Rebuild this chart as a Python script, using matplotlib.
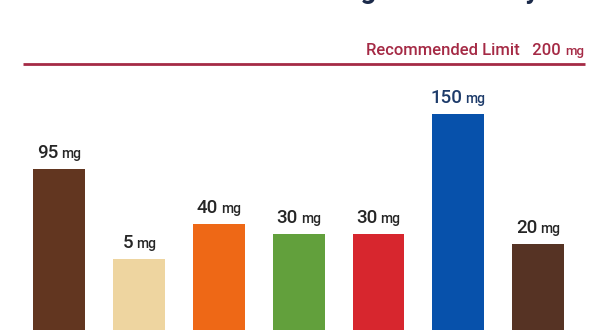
import numpy as np
import matplotlib.pyplot as plt
from matplotlib.offsetbox import TextArea, HPacker, AnnotationBbox

plt.rcParams['font.family'] = ['Roboto', 'DejaVu Sans']

drinks = ["Coffee", "Decaf", "Black tea", "Green tea", "Cola", "Energy drink", "Hot chocolate"]
caffeine_mg = [95, 5, 40, 30, 30, 150, 20]
limit_mg = 200
unit = "mg"
title = "Caffeine Content: How Big Is Your Daily Drink?"

bar_colors = ["#623620", "#eed5a0", "#ee6816", "#62a03c", "#d7262e", "#0751ab", "#563324"]
label_colors = ["#262626"] * 5 + ["#1d3b6a", "#262626"]
limit_color = "#a52a45"

fig = plt.figure(figsize=(6, 3.3), dpi=100)
ax = fig.add_axes([0, 0, 1, 1])

x = np.arange(len(drinks))
# axis floor sits below the visible area so bars run off the bottom edge
floor_mg = -66
ax.set_ylim(floor_mg, 264)
ax.set_xlim(-0.743, 6.776)

ax.bar(x, np.array(caffeine_mg) - floor_mg, bottom=floor_mg, width=0.65,
       color=bar_colors, zorder=2)

# value labels: big number, small unit
for xi, v, c in zip(x, caffeine_mg, label_colors):
    num = TextArea(str(v), textprops=dict(size=13.5, color=c, weight="medium"))
    mg = TextArea(unit, textprops=dict(size=10, color=c, weight="medium"))
    box = HPacker(children=[num, mg], align="baseline", pad=0, sep=2)
    ab = AnnotationBbox(box, (xi, v), xybox=(0, 5), xycoords="data",
                        boxcoords="offset points", box_alignment=(0.5, 0),
                        frameon=False, pad=0)
    ax.add_artist(ab)

# recommended limit line
ax.hlines(limit_mg, -0.455, 6.588, color=limit_color, lw=2, zorder=3)
lab = TextArea("Recommended Limit", textprops=dict(size=12, color=limit_color, weight="medium"))
val = TextArea(str(limit_mg), textprops=dict(size=12, color=limit_color, weight="medium"))
u = TextArea(unit, textprops=dict(size=9.5, color=limit_color, weight="medium"))
box = HPacker(children=[lab, val, u], align="baseline", pad=0, sep=3)
box.get_children()[1]._text.set_text("  " + str(limit_mg))
ab = AnnotationBbox(box, (6.578, limit_mg), xybox=(0, 4), xycoords="data",
                    boxcoords="offset points", box_alignment=(1, 0),
                    frameon=False, pad=0)
ax.add_artist(ab)

# title sits just above the top edge, only its descenders peek in
fig.text(0.56, 1 + 2 / 330, title, ha="center", va="baseline",
         fontsize=20, fontweight="bold", color="#1b2a4a")

ax.axis("off")
fig.savefig("out.png", dpi=100)
